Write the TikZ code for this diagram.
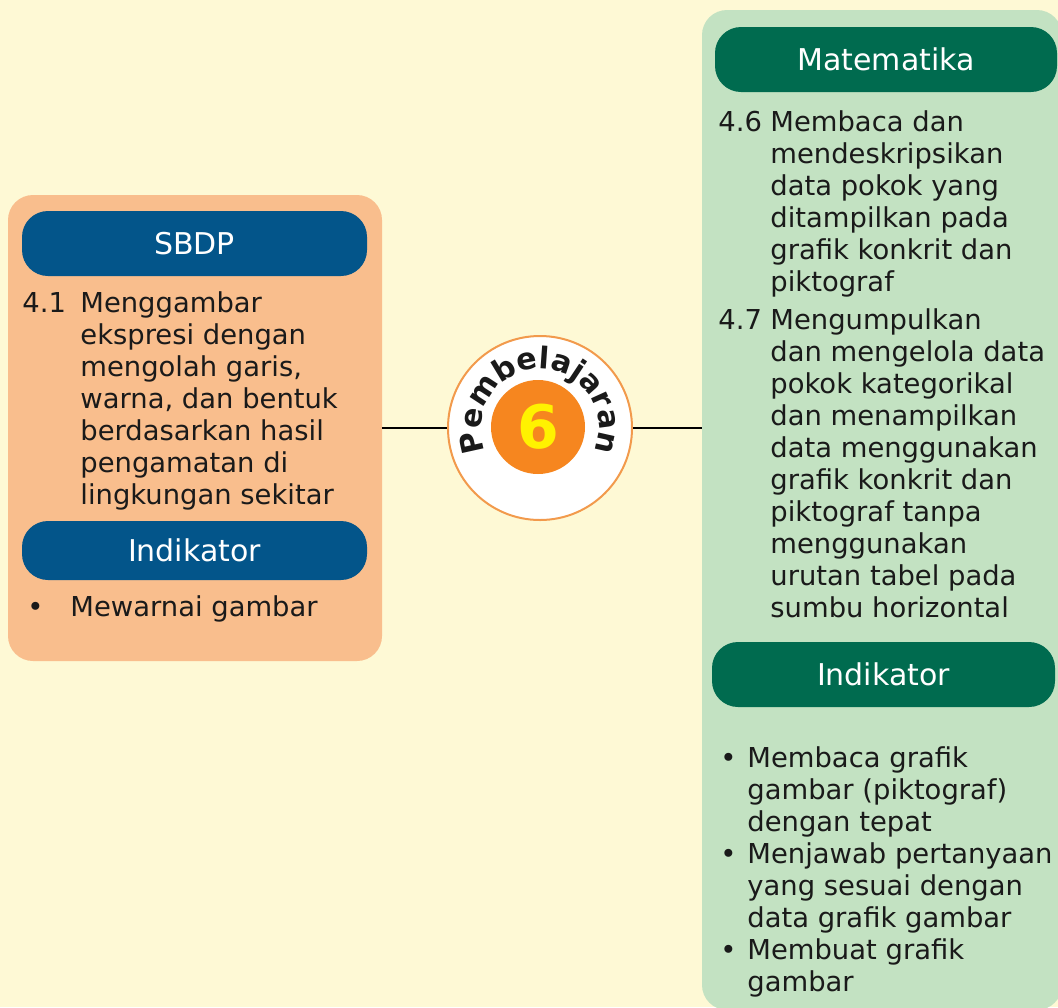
\documentclass[tikz,border=0pt]{standalone}
\usepackage{fontspec}
\setmainfont{DejaVu Sans}
\usetikzlibrary{decorations.text,calc}
\definecolor{bgyellow}{HTML}{FEF9D5}
\definecolor{sbdporange}{HTML}{F9BE8D}
\definecolor{sbdpblue}{HTML}{03558A}
\definecolor{matgreen}{HTML}{C3E2C2}
\definecolor{matdark}{HTML}{006B4F}
\definecolor{badgeorange}{HTML}{F6861F}
\definecolor{badgering}{HTML}{F29A4C}
\definecolor{sixyellow}{HTML}{FFF200}
\definecolor{inkblack}{HTML}{1A1A1A}
\begin{document}
\begin{tikzpicture}[
        x=0.5pt, y=-0.5pt,
        panel/.style={draw=none, rounded corners=12.5pt, inner sep=0pt},
        header/.style={draw=none, rounded corners=13pt, inner sep=0pt, text=white,
            font=\fontsize{15}{18}\selectfont},
        body/.style={anchor=base west, inner sep=0pt, text=inkblack,
            font=\fontsize{13.7}{16}\selectfont},
        link/.style={draw=black, line width=1.4pt},
    ]
    \useasboundingbox (0,0) rectangle (1058,1007);
    \clip (0,0) rectangle (1058,1007);
    \fill[bgyellow] (0,0) rectangle (1058,1007);

    % panels
    \node[panel, fill=sbdporange, minimum width=187pt, minimum height=233pt] (sbdpbox) at (195,428) {};
    \node[panel, fill=matgreen, minimum width=180pt, minimum height=500pt] (matbox) at (882,510) {};

    % headers
    \node[header, fill=sbdpblue, minimum width=172.5pt, minimum height=32.5pt] (sbdphead) at (194.5,243.5) {SBDP};
    \node[header, fill=sbdpblue, minimum width=172.5pt, minimum height=29.5pt] (sbdpind) at (194.5,550.5) {Indikator};
    \node[header, fill=matdark, minimum width=171pt, minimum height=32.5pt] (mathead) at (886,59.5) {Matematika};
    \node[header, fill=matdark, minimum width=171.5pt, minimum height=32.5pt] (matind) at (883.5,674.5) {Indikator};

    % texts
    \node[body] (sbdpkd) at (22,312) {\begin{tabular}[t]{@{}p{29pt}@{}l@{}}
        4.1 & Menggambar\\
        & ekspresi dengan\\
        & mengolah garis,\\
        & warna, dan bentuk\\
        & berdasarkan hasil\\
        & pengamatan di\\
        & lingkungan sekitar
        \end{tabular}};
    \node[body] (sbdpbul) at (27,616) {\begin{tabular}[t]{@{}p{21.5pt}@{}l@{}}
        • & Mewarnai gambar
        \end{tabular}};
    \node[body] (matkd) at (718,131) {\begin{tabular}[t]{@{}p{26pt}@{}l@{}}
        4.6 & Membaca dan\\
        & mendeskripsikan\\
        & data pokok yang\\
        & ditampilkan pada\\
        & grafik konkrit dan\\
        & piktograf\\[3pt]
        4.7 & Mengumpulkan\\
        & dan mengelola data\\
        & pokok kategorikal\\
        & dan menampilkan\\
        & data menggunakan\\
        & grafik konkrit dan\\
        & piktograf tanpa\\
        & menggunakan\\
        & urutan tabel pada\\
        & sumbu horizontal
        \end{tabular}};
    \node[body] (matbul) at (720,767) {\begin{tabular}[t]{@{}p{13.5pt}@{}l@{}}
        • & Membaca grafik\\
        & gambar (piktograf)\\
        & dengan tepat\\
        • & Menjawab pertanyaan\\
        & yang sesuai dengan\\
        & data grafik gambar\\
        • & Membuat grafik\\
        & gambar
        \end{tabular}};

    % badge
    \node[circle, draw=badgering, line width=1pt, fill=white, minimum size=92pt, inner sep=0pt] (badge) at (540,428) {};
    \node[circle, fill=badgeorange, minimum size=47pt, inner sep=0pt] (badgecore) at (538,427) {};
    \node[text=sixyellow, font=\bfseries\fontsize{30}{32}\selectfont] (six) at (badgecore) {6};
    \path[decorate, decoration={text along path, text align=center,
            text color=inkblack, text={|\bfseries\fontsize{15}{16}\selectfont|Pembelajaran}}]
        ($(badge.center)+(160:59)$) arc[start angle=160, end angle=380, radius=59];

    % links
    \draw[link] (sbdpbox.east) -- (badge.west);
    \draw[link] (badge.east) -- (badge.east -| matbox.west);
\end{tikzpicture}
\end{document}
